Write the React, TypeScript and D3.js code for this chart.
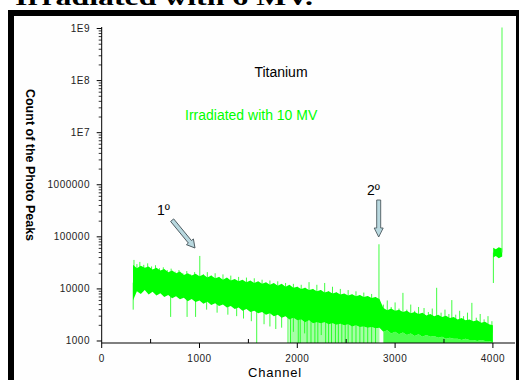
import React from 'react'
import * as d3 from 'd3'

// y axis ticks (log scale)
const yTickValues = [1e3, 1e4, 1e5, 1e6, 1e7, 1e8, 1e9]
const yTickLabels = ['1000', '10000', '100000', '1000000', '1E7', '1E8', '1E9']
const xTickValues = [0, 1000, 2000, 3000, 4000]
const xMinorValues = [500, 1500, 2500, 3500]

// dense part of the spectrum, read every 40 channels from 320 to 4000
const bandCh = d3.range(320, 4001, 40)
const bandTop = [
  29000, 25000, 28000, 25500, 27000, 23500, 25500, 22500, 24000, 21000, 22500, 20000, 21500, 18500, 20000, 18000,
  19500, 17500, 19000, 16500, 18000, 16000, 17000, 15000, 16500, 14500, 15500, 14000, 15000, 13500, 14500, 13000,
  14000, 12500, 13500, 12000, 13000, 11500, 12500, 11000, 12000, 10500, 11000, 10000, 10500, 9500, 10000, 9000,
  9500, 8500, 9000, 8200, 8600, 7800, 8200, 7500, 7900, 7200, 7600, 7000, 7300, 6700, 7000, 6400, 4300, 3900,
  4200, 3800, 4000, 3600, 3800, 3400, 3600, 3300, 3500, 3100, 3300, 3000, 3200, 2900, 3050, 2750, 2900, 2600,
  2750, 2500, 2600, 2400, 2500, 2250, 2350, 2100, 2000,
]
const bandBottom = [
  6000, 9000, 8000, 9500, 7800, 8800, 7500, 8300, 7000, 7600, 6600, 7200, 6300, 6800, 5800, 6400,
  5600, 6000, 5200, 5700, 4900, 5300, 4700, 5000, 4400, 4700, 4100, 4400, 3800, 4100, 3600, 3800,
  3400, 3600, 3200, 3400, 3000, 3200, 2800, 3000, 2600, 2800, 2500, 2600, 2300, 2500, 2200, 2300,
  2200, 2300, 2100, 2200, 2050, 2150, 2000, 2100, 1900, 2000, 1850, 1900, 1800, 1850, 1750, 1800, 1500, 1600,
  1400, 1500, 1350, 1450, 1300, 1400, 1250, 1350, 1200, 1300, 1200, 1250, 1150, 1200, 1100, 1150, 1100, 1100,
  1050, 1100, 1050, 1050, 1000, 1050, 1000, 1000, 950,
]

// sparse low parts (lines down to the floor): [start, end, density]
const sparseStart = [1900, 2880]
const sparseEnd = [2840, 4000]
const sparseDensity = [0.35, 0.7]

// block at the end of the spectrum
const blockCh = [4003, 4030, 4060, 4095]
const blockTop = [62000, 58000, 63000, 60000]
const blockBottom = [40000, 43000, 39000, 42000]

// upward spikes
const upCh = [330, 360, 390, 430, 470, 510, 550, 590, 630, 670, 710, 750, 790, 830, 870, 910, 950, 1003, 1040, 1080, 1120, 1160, 1200, 1240, 1280, 1320, 1360, 1400, 1440, 1480, 1520, 1560, 1600, 1640, 1680, 1720, 1760, 1800, 1840, 1880, 1920, 1960, 2000, 2040, 2080, 2120, 2160, 2200, 2240, 2280, 2320, 2360, 2400, 2440, 2480, 2520, 2560, 2600, 2640, 2680, 2720, 2760, 2800, 2835, 2880, 2920, 2960, 3000, 3040, 3080, 3120, 3160, 3200, 3240, 3296, 3340, 3380, 3425, 3470, 3510, 3550, 3580, 3620, 3660, 3700, 3740, 3785, 3830, 3870, 3910, 3950, 3990, 4093]
const upVal = [36000, 30000, 33000, 29000, 31000, 27000, 28500, 25000, 26000, 23000, 24500, 21500, 23000, 20000, 22000, 19000, 21000, 43000, 19000, 21000, 18000, 20000, 17000, 19000, 16000, 18000, 15000, 17000, 14500, 16500, 14000, 16000, 13500, 15000, 13000, 14500, 12500, 14000, 12000, 13000, 11500, 12500, 11000, 12000, 10500, 13500, 10000, 12000, 9500, 13000, 9000, 11000, 8500, 10000, 8000, 9500, 7800, 9000, 7500, 8500, 7200, 8000, 7000, 72000, 5000, 6000, 4500, 5500, 4200, 8400, 4000, 5000, 3800, 4500, 4300, 3600, 4200, 10500, 3500, 4000, 3300, 6100, 3200, 3800, 3000, 3500, 5400, 2800, 3300, 2600, 3000, 2400, 1.05e9]

// downward spikes
const downCh = [322, 705, 873, 960, 1073, 1180, 1290, 1380, 1450, 1530, 1585, 1660, 1720, 1780, 1840, 1905, 1930, 1960, 2010, 2030, 2075, 2100, 2140, 2180, 2210, 2245, 2290, 2320, 2350, 2390, 2420, 2455, 2490, 2520, 2560, 2600, 2640, 2680, 2720, 2760, 2800, 4005]
const downVal = [4000, 2900, 2900, 2900, 4000, 3500, 3200, 3000, 2700, 2400, 900, 2100, 1900, 1700, 1800, 900, 900, 1500, 900, 900, 1400, 900, 900, 900, 900, 1300, 900, 900, 900, 900, 900, 900, 900, 900, 900, 900, 900, 900, 900, 900, 900, 13000]

const W = 519
const H = 380
const green = '#00ff00'
const sans = '"Liberation Sans", Arial, sans-serif'

const x = d3.scaleLinear().domain([0, 4226]).range([101.7, 515])
const y = d3.scaleLog().domain([915, 1.07e9]).range([343, 27])

// where a spike leaves the band (nearest sample, no new data)
const bandMid = (ch: number) => {
  if (ch >= blockCh[0]) return 50000
  const i = Math.max(0, d3.bisectRight(bandCh, ch) - 1)
  return Math.sqrt(bandTop[i] * bandBottom[i])
}

const App = () => {
  const idx = bandCh.map((c, i) => i)
  const band = d3
    .area<number>()
    .x((d) => x(bandCh[d]))
    .y0((d) => y(bandBottom[d]))
    .y1((d) => y(bandTop[d]))
  const block = d3
    .area<number>()
    .x((d) => x(blockCh[d]))
    .y0((d) => y(blockBottom[d]))
    .y1((d) => y(blockTop[d]))
  const sparse = d3
    .area<number>()
    .x((d) => x(bandCh[d]))
    .y0(y(900))
    .y1((d) => y(bandBottom[d]))

  const yMinor: number[] = []
  for (let k = 3; k < 9; k++) for (let m = 2; m < 10; m++) yMinor.push(m * 10 ** k)

  const arrowAngle = (Math.atan2(28, 23) * 180) / Math.PI - 90

  return (
    <div style={{ position: 'absolute', left: 0, top: 0 }}>
      <svg width={W} height={H} style={{ display: 'block' }}>
        <rect x={0} y={0} width={W} height={H} fill="#fff" />
        <text x={15} y={4.5} fontFamily='"Liberation Serif", "Times New Roman", serif' fontWeight="bold" fontSize={24} textLength={298} lengthAdjust="spacingAndGlyphs">
          Irradiated with 6 MV.
        </text>
        {/* frame */}
        <rect x={8} y={10} width={520} height={380} fill="#000" />
        <rect x={14} y={16} width={502} height={380} fill="#fefefe" />

        <defs>
          <clipPath id="plot">
            <rect x={101.7} y={20} width={413.3} height={323} />
          </clipPath>
        </defs>

        <g clipPath="url(#plot)">
          {sparseStart.map((s, k) => (
            <path
              key={'s' + k}
              d={sparse(idx.filter((i) => bandCh[i] >= s && bandCh[i] <= sparseEnd[k])) ?? ''}
              fill={green}
              opacity={sparseDensity[k]}
            />
          ))}
          <path d={band(idx) ?? ''} fill={green} />
          <path d={block(blockCh.map((c, i) => i)) ?? ''} fill={green} />
          {upCh.map((c, i) => (
            <line key={'u' + i} x1={x(c)} x2={x(c)} y1={y(bandMid(c))} y2={y(upVal[i])} stroke={i === upCh.length - 1 ? '#55ff55' : green} strokeWidth={i === upCh.length - 1 ? 1.4 : 1} opacity={0.75} />
          ))}
          {downCh.map((c, i) => (
            <line key={'d' + i} x1={x(c)} x2={x(c)} y1={y(bandMid(c))} y2={y(downVal[i])} stroke={green} strokeWidth={1} opacity={0.75} />
          ))}
        </g>

        {/* y axis */}
        <g fontFamily={sans} fontSize={10} fill="#222" letterSpacing={0.5}>
          <line x1={101.7} x2={101.7} y1={27} y2={343} stroke="#000" />
          {yMinor.map((v) => (
            <line key={v} x1={98.7} x2={101.7} y1={y(v)} y2={y(v)} stroke="#000" strokeWidth={0.8} />
          ))}
          {yTickValues.map((v, i) => (
            <g key={v}>
              <line x1={96.7} x2={101.7} y1={y(v)} y2={y(v)} stroke="#000" />
              <text x={90} y={y(v) + 3.5} textAnchor="end">
                {yTickLabels[i]}
              </text>
            </g>
          ))}
        </g>

        {/* x axis */}
        <g fontFamily={sans} fontSize={10} fill="#222" letterSpacing={0.5}>
          <line x1={101.7} x2={515} y1={343} y2={343} stroke="#000" />
          {xMinorValues.map((v) => (
            <line key={v} x1={x(v)} x2={x(v)} y1={339} y2={343} stroke="#000" />
          ))}
          {xTickValues.map((v) => (
            <g key={v}>
              <line x1={x(v)} x2={x(v)} y1={343} y2={348} stroke="#000" />
              <text x={x(v)} y={362} textAnchor="middle">
                {v}
              </text>
            </g>
          ))}
        </g>

        <text x={275} y={377} textAnchor="middle" fontFamily={sans} fontSize={13} letterSpacing={0.8} fill="#000">
          Channel
        </text>
        <text transform="translate(26,165) rotate(90)" textAnchor="middle" fontFamily={sans} fontSize={12.5} fontWeight="bold" fill="#000">
          Count of the Photo Peaks
        </text>

        <text x={281} y={77} textAnchor="middle" fontFamily={sans} fontSize={14} fill="#000">
          Titanium
        </text>
        <text x={185} y={120} fontFamily={sans} fontSize={14} fill={green}>
          Irradiated with 10 MV
        </text>

        {/* peak arrows */}
        <text x={157} y={215} fontFamily={sans} fontSize={14} fill="#000">
          1º
        </text>
        <g transform={`translate(195,248) rotate(${arrowAngle})`}>
          <path d="M0,0 L-4.5,-8 L-2,-8 L-2,-36 L2,-36 L2,-8 L4.5,-8 Z" fill="#b8d8df" stroke="#4c5a60" strokeWidth={0.9} />
        </g>
        <text x={367} y={195} fontFamily={sans} fontSize={14} fill="#000">
          2º
        </text>
        <g transform="translate(378.7,237)">
          <path d="M0,0 L-4.5,-9 L-2,-9 L-2,-37 L2,-37 L2,-9 L4.5,-9 Z" fill="#b8d8df" stroke="#4c5a60" strokeWidth={0.9} />
        </g>
      </svg>
    </div>
  )
}

export default App
